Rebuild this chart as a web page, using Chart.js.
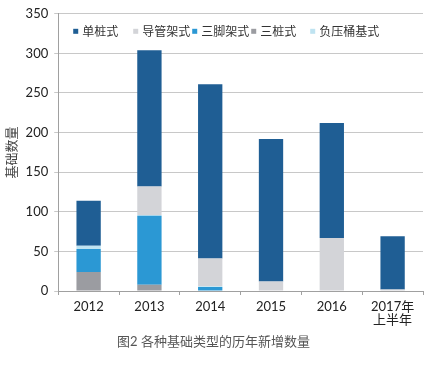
<!DOCTYPE html>
<html>
<head>
<meta charset="utf-8">
<script src="https://cdn.jsdelivr.net/npm/chart.js@4/dist/chart.umd.min.js"></script>
<style>
    html, body { margin: 0; padding: 0; background: #fff; }
    #wrap { width: 430px; height: 365px; }
</style>
</head>
<body>
<div id="wrap"><canvas id="chart" width="430" height="365"></canvas></div>
<script>

const years = ["2012", "2013", "2014", "2015", "2016", ["2017年", "上半年"]];

// stacked bottom-up
const sanZhuang = [24, 8, 0, 0, 0, 0];          // 三桩式
const sanJiao = [29, 87, 5, 0, 0, 0];           // 三脚架式
const fuYa = [4, 1, 1, 0, 0, 0];                // 负压桶基式
const daoGuan = [0, 36, 35, 12, 67, 2];         // 导管架式
const danZhuang = [57, 172, 220, 180, 145, 67]; // 单桩式

const legendOrder = ["单桩式", "导管架式", "三脚架式", "三桩式", "负压桶基式"];

const fontFamily = "'Lato', 'Noto Sans CJK SC', sans-serif";

function makeSet(label, data, color) {
    return {
        label: label,
        data: data,
        backgroundColor: color,
        borderWidth: 0,
        barPercentage: 0.4,
        categoryPercentage: 1.0
    };
}

// legend drawn inside the plot, one row, like the Excel original
const insideLegend = {
    id: "insideLegend",
    afterDatasetsDraw(chart) {
        const c = chart.ctx;
        const area = chart.chartArea;
        const columns = [15, 75, 134, 193, 252];
        const y = area.top + 18;

        c.save();
        c.font = "12px " + fontFamily;
        c.textBaseline = "middle";

        legendOrder.forEach((name, i) => {
            const ds = chart.data.datasets.find(d => d.label === name);
            const x = area.left + columns[i];
            c.fillStyle = ds.backgroundColor;
            c.fillRect(x, y - 3, 5, 5);
            c.fillStyle = "#333";
            c.fillText(name, x + 9, y);
        });

        c.restore();
    }
};

const ctx = document.getElementById("chart");

new Chart(ctx, {

    type: "bar",

    data: {
        labels: years,
        datasets: [
            makeSet("三桩式", sanZhuang, "#9b9ca1"),
            makeSet("三脚架式", sanJiao, "#2b98d4"),
            makeSet("负压桶基式", fuYa, "#bfe3f1"),
            makeSet("导管架式", daoGuan, "#d3d4d8"),
            makeSet("单桩式", danZhuang, "#1f5e94")
        ]
    },

    plugins: [insideLegend],

    options: {
        responsive: false,
        animation: false,
        layout: {
            padding: { left: 4, right: 7, top: 7, bottom: 0 }
        },
        plugins: {
            legend: { display: false },
            title: {
                display: true,
                position: "bottom",
                text: "图2 各种基础类型的历年新增数量",
                color: "#555",
                font: { family: fontFamily, size: 13, weight: "normal", lineHeight: 1.0 },
                padding: { top: 4, bottom: 17 }
            },
            tooltip: { enabled: false }
        },
        scales: {
            x: {
                stacked: true,
                grid: {
                    offset: true,
                    drawOnChartArea: false,
                    drawTicks: true,
                    tickLength: 4,
                    color: "#a0a0a0"
                },
                border: { color: "#a0a0a0" },
                ticks: {
                    color: "#222",
                    padding: 5,
                    maxRotation: 0,
                    font: { family: fontFamily, size: 13, lineHeight: 1.0 }
                }
            },
            y: {
                stacked: true,
                min: 0,
                max: 350,
                ticks: {
                    stepSize: 50,
                    color: "#222",
                    padding: 6,
                    font: { family: fontFamily, size: 13 }
                },
                grid: {
                    color: "#c8c8c8",
                    tickLength: 4
                },
                border: { color: "#a0a0a0" },
                title: {
                    display: true,
                    text: "基础数量",
                    color: "#444",
                    padding: 0,
                    font: { family: fontFamily, size: 13 }
                }
            }
        }
    }

});

</script>
</body>
</html>
